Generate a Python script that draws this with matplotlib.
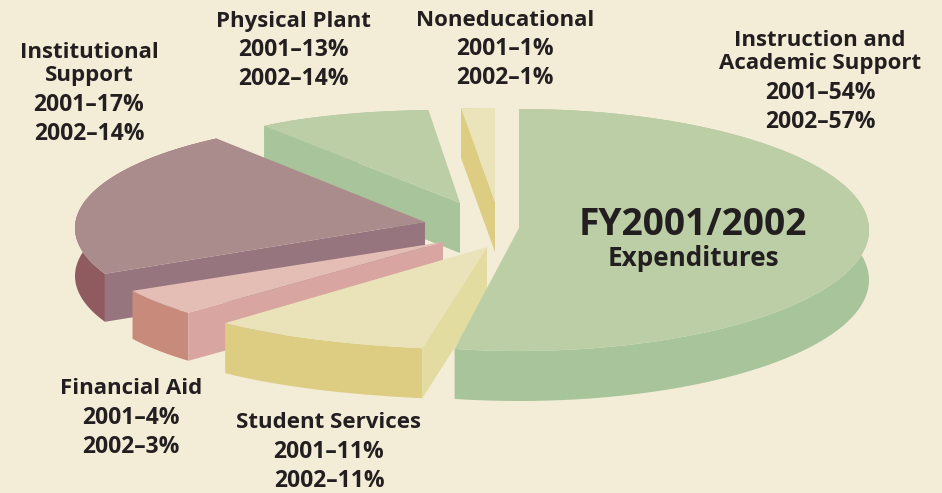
from matplotlib import pyplot as plt
from matplotlib.patches import Polygon
import numpy as np

names = ['Instruction and\nAcademic Support', 'Student Services', 'Financial Aid',
         'Institutional\nSupport', 'Physical Plant', 'Noneducational']
pct_2001 = [54, 11, 4, 17, 13, 1]
pct_2002 = [57, 11, 3, 14, 14, 1]

bg = '#f3ecd7'
text_col = '#231f20'
font = 'Open Sans'

# wedge layout, pixels: apex, ellipse centre, radii, depth
apex = [(519, 228), (487, 247), (443, 242), (425, 222), (460, 203), (495, 202)]
centre = [(519, 230), (501, 280), (563, 254), (380, 228), (443, 154), (495, 208)]
radii = [(350, 121), (350, 70), (463, 100), (305, 106), (232, 44), (540, 100)]
depth = [50, 50, 48, 48, 50, 50]
# small corrections to the slice angles, the original has perspective in it
adjust = [(0, -3.8), (-1.4, -2), (0, 0), (-4, 18), (0, 0), (0, 0)]

top_col = ['#bccea6', '#eae3b9', '#e4bdb5', '#ab8c8d', '#bccea6', '#ebe3ba']
side_col = ['#a8c49b', '#dccd83', '#c88b7b', '#8f5b5e', '#a8c49b', '#dccd83']
cut_col = [None, '#e3dca0', '#d8a5a0', '#96757f', '#a8c49b', '#dccd83']

# back to front
draw_order = [4, 5, 3, 2, 1, 0]

# label anchor: x, y of first line
label_x = [820, 329, 131, 89, 293, 505]
label_y = [40, 423, 389, 52, 21, 20]

fig = plt.figure(figsize=(9.42, 4.93), dpi=100, facecolor=bg)
ax = fig.add_axes([0, 0, 1, 1])
ax.set_xlim(0, 942)
ax.set_ylim(493, 0)
ax.axis('off')

edges = np.concatenate([[0], np.cumsum(pct_2001)]) / sum(pct_2001) * 360

for i in draw_order:
    t = np.radians(np.linspace(edges[i] + adjust[i][0], edges[i + 1] + adjust[i][1], 120))
    x = centre[i][0] + radii[i][0] * np.sin(t)
    y = centre[i][1] - radii[i][1] * np.cos(t)
    d = depth[i]
    band = np.column_stack([np.r_[x, x[::-1]], np.r_[y, y[::-1] + d]])
    ax.add_patch(Polygon(band, fc=side_col[i], lw=0))
    if cut_col[i]:
        cut = [(x[0], y[0]), apex[i], (apex[i][0], apex[i][1] + d), (x[0], y[0] + d)]
        ax.add_patch(Polygon(cut, fc=cut_col[i], lw=0))
    top = np.column_stack([np.r_[apex[i][0], x], np.r_[apex[i][1], y]])
    ax.add_patch(Polygon(top, fc=top_col[i], lw=0))

for i, name in enumerate(names):
    yy = label_y[i]
    for line in name.split('\n'):
        ax.text(label_x[i], yy, line, ha='center', va='center', fontsize=16,
                fontweight='bold', family=font, color=text_col)
        yy += 24
    yy += 5
    ax.text(label_x[i], yy, f'2001–{pct_2001[i]}%', ha='center', va='center', fontsize=16.5,
            fontweight='bold', family=font, color=text_col)
    ax.text(label_x[i], yy + 29, f'2002–{pct_2002[i]}%', ha='center', va='center', fontsize=16.5,
            fontweight='bold', family=font, color=text_col)

ax.text(693, 225, 'FY2001/2002', ha='center', va='center', fontsize=26.7,
        fontweight='bold', family=font, color=text_col)
ax.text(693, 258, 'Expenditures', ha='center', va='center', fontsize=18.8,
        fontweight='bold', family=font, color=text_col)

plt.savefig('out.png', dpi=100, facecolor=bg)
